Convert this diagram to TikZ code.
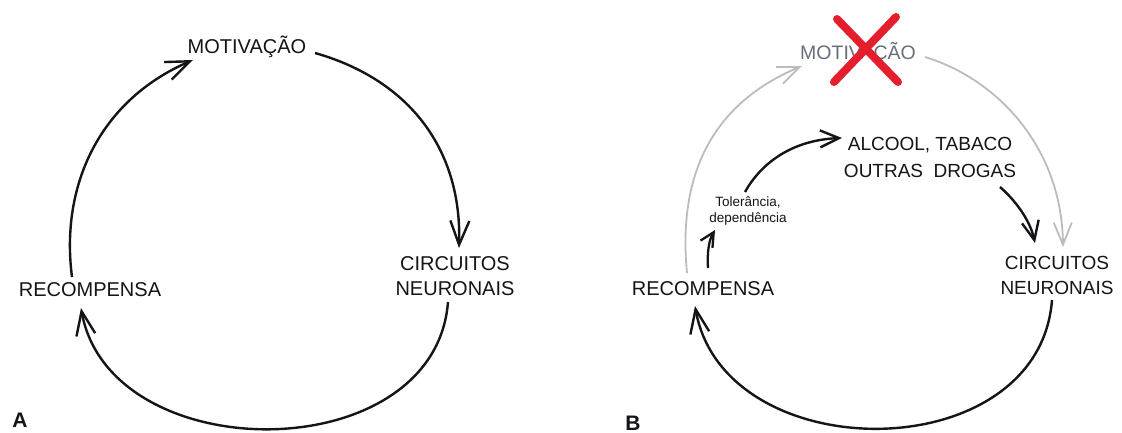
\documentclass[tikz,border=0pt]{standalone}
\usepackage{fontspec}
\setmainfont{Liberation Sans}
\usetikzlibrary{arrows.meta,calc}
\definecolor{inkblack}{RGB}{20,20,25}
\definecolor{softgray}{RGB}{188,188,188}
\definecolor{fadedtext}{RGB}{105,110,125}
\definecolor{crossred}{RGB}{228,30,45}
\tikzset{
  label/.style={inner sep=0pt, align=center, text=inkblack, font=\fontsize{20}{25}\selectfont},
  labelB/.style={label, font=\fontsize{19}{25}\selectfont},
  small/.style={inner sep=0pt, align=center, text=inkblack, font=\fontsize{13.5}{16}\selectfont},
  panel/.style={inner sep=0pt, text=inkblack, font=\fontsize{21}{21}\selectfont\bfseries},
  cycle/.style={draw=inkblack, line width=2.4pt, -{Straight Barb[length=24pt,width=19pt]}},
  faded/.style={draw=softgray, line width=1.8pt, -{Straight Barb[length=22pt,width=18pt]}},
  link/.style={draw=inkblack, line width=2.4pt, -{Straight Barb[length=19pt,width=17pt]}},
  shortlink/.style={draw=inkblack, line width=2.3pt, -{Straight Barb[length=14pt,width=14pt]}},
  cross/.style={draw=crossred, line width=8pt, line cap=round}
}
\begin{document}
\begin{tikzpicture}[x=1pt,y=-1pt]
\useasboundingbox (0,0) rectangle (1122,433);
\fill[white] (0,0) rectangle (1122,433);

% ---- panel A: the reward cycle ----
\node[label] (motA) at (247,47) {MOTIVAÇÃO};
\node[label] (circA) at (455,276) {CIRCUITOS\\NEURONAIS};
\node[label] (recA) at (90,290) {RECOMPENSA};
\node[panel] (labA) at (20,420) {A};

\draw[cycle] ($(recA)+(-18,-13)$) .. controls (60,185) and (100,100) .. ($(motA)+(-54,13)$);
\draw[cycle] ($(motA)+(68,6)$) .. controls (410,80) and (462,150) .. ($(circA)+(4,-28)$);
\draw[cycle] ($(circA)+(-7,26)$) .. controls (435,470) and (110,470) .. ($(recA)+(-9,18)$);

% ---- panel B: the cycle taken over by drugs ----
\node[label, text=fadedtext, font=\fontsize{19.5}{25}\selectfont] (motB) at (858,53) {MOTIVAÇÃO};
\node[labelB] (alcB) at (930,157) {ALCOOL, TABACO\\[2pt]OUTRAS\ \ DROGAS};
\node[small] (tolB) at (748,211) {Tolerância,\\dependência};
\node[labelB] (circB) at (1057,275) {CIRCUITOS\\NEURONAIS};
\node[label] (recB) at (703,289) {RECOMPENSA};
\node[panel] (labB) at (633,423) {B};

% former route through motivation, now faded
\draw[faded] ($(recB)+(-16,-16)$) .. controls (678,180) and (708,105) .. ($(motB)+(-56,13)$);
\draw[faded] ($(motB)+(67,4)$) .. controls (1000,80) and (1062,150) .. ($(circB)+(6,-28)$);

% red cross over motivation
\draw[cross] ($(motB)+(-21,-34)$) -- ($(motB)+(40,29)$);
\draw[cross] ($(motB)+(38,-36)$) -- ($(motB)+(-24,29)$);

% new route through tolerance and drugs
\draw[shortlink] ($(recB)+(5,-21)$) .. controls (707,252) and (709,240) .. ($(tolB)+(-33,19)$);
\draw[link] ($(tolB)+(-3,-19)$) .. controls (760,165) and (790,140) .. ($(alcB)+(-88,-19)$);
\draw[link] ($(alcB)+(70,30)$) .. controls (1015,200) and (1030,220) .. ($(circB)+(-22,-32)$);
\draw[cycle] ($(circB)+(-5,25)$) .. controls (1039,470) and (724,470) .. ($(recB)+(-8,17)$);
\end{tikzpicture}
\end{document}
